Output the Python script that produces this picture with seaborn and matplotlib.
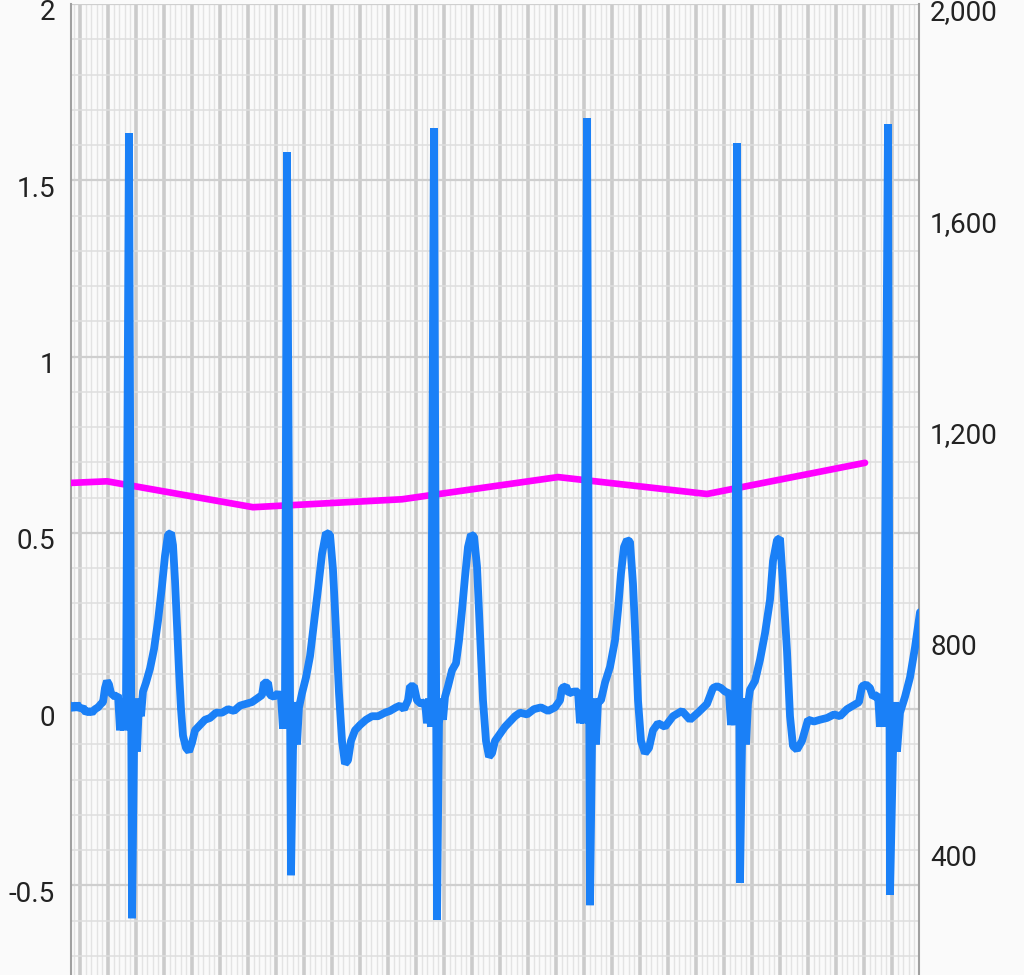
import matplotlib
matplotlib.use('Agg')
import matplotlib.pyplot as plt
import matplotlib.transforms as mtransforms
import seaborn as sns
import numpy as np

# ECG samples: sample index (140 Hz) and amplitude (mV)
FS = 140
ecg_n = [
    0, 3, 6, 9, 12, 15, 18, 21, 24, 27, 30, 32, 34, 36, 38, 40, 42, 44, 47, 49,
    51, 53, 55, 58, 61, 63, 64, 66, 68, 70, 72, 75, 79, 83, 87, 91, 94, 97, 100, 102,
    104, 106, 108, 110, 112, 115, 118, 121, 124, 129, 134, 139, 145, 151, 157, 163, 169, 175, 181, 186,
    191, 193, 197, 199, 203, 207, 210, 212, 214, 216, 220, 222, 224, 226, 228, 231, 235, 239, 243, 247,
    251, 255, 259, 262, 265, 268, 271, 274, 277, 280, 284, 289, 295, 301, 307, 314, 319, 325, 329, 333,
    337, 339, 343, 346, 350, 354, 356, 358, 360, 363, 366, 368, 370, 372, 374, 377, 381, 385, 388, 391,
    394, 397, 400, 403, 406, 409, 412, 415, 418, 421, 424, 429, 434, 439, 444, 449, 456, 463, 470, 477,
    484, 489,
    491, 495, 498, 503, 507, 509, 511, 513, 516, 519, 521, 523, 525, 527, 530, 534, 539, 544, 547, 550,
    553, 556, 559, 562, 565, 567, 570, 574, 578, 582, 587, 594, 602, 611, 619, 627, 636,
    642, 646, 650, 654, 658, 660, 662, 664, 666, 669, 671, 673, 675, 677, 679, 684, 689, 694, 699, 702,
    706, 709, 712, 716, 719, 722, 726, 731, 737, 743, 749, 756, 763, 769, 776, 782, 788,
    791, 795, 799, 802, 807, 809, 811, 813, 817, 819, 822, 824, 826, 829, 834, 839, 844, 849,
]
ecg_mv = [
    0.01, 0.0, 0.015, 0.0, 0.005, -0.01, -0.005, -0.01, 0.0, 0.005, 0.015, 0.02, 0.06, 0.08, 0.07, 0.045, 0.04, 0.035, 0.04, -0.06,
    0.03, -0.06, 0.02, 1.634, -0.593, -0.12, 0.03, -0.12, 0.02, -0.02, 0.05, 0.075, 0.115, 0.17, 0.25, 0.35, 0.435, 0.495, 0.50, 0.465,
    0.365, 0.24, 0.11, 0.0, -0.075, -0.11, -0.12, -0.095, -0.06, -0.045, -0.03, -0.025, -0.01, -0.01, 0.0, -0.005, 0.01, 0.015, 0.02, 0.03,
    0.04, 0.075, 0.075, 0.04, 0.035, 0.045, 0.035, -0.055, 0.03, 1.58, -0.471, -0.115, 0.02, -0.1, 0.005, 0.045, 0.09, 0.15, 0.245, 0.34,
    0.44, 0.50, 0.495, 0.395, 0.225, 0.045, -0.09, -0.155, -0.145, -0.09, -0.06, -0.045, -0.03, -0.02, -0.02, -0.01, -0.005, 0.005, 0.01, 0.0,
    0.025, 0.065, 0.065, 0.025, 0.015, 0.02, -0.04, 0.03, -0.05, 1.648, -0.598, -0.04, 0.03, -0.03, 0.035, 0.065, 0.11, 0.13, 0.195, 0.28,
    0.375, 0.46, 0.495, 0.49, 0.405, 0.215, 0.025, -0.09, -0.135, -0.125, -0.09, -0.07, -0.05, -0.035, -0.02, -0.01, -0.015, 0.0, 0.005, -0.005,
    0.005, 0.025,
    0.06, 0.065, 0.045, 0.05, 0.05, -0.04, 0.04, -0.04, 1.676, -0.556, -0.1, 0.03, -0.1, 0.02, 0.025, 0.075, 0.12, 0.195, 0.28, 0.385,
    0.46, 0.48, 0.475, 0.355, 0.165, 0.025, -0.09, -0.125, -0.11, -0.06, -0.04, -0.05, -0.02, -0.005, -0.03, -0.01, 0.015,
    0.06, 0.065, 0.06, 0.05, 0.045, -0.045, 0.04, -0.045, 1.605, -0.493, -0.105, 0.03, -0.1, 0.015, 0.055, 0.08, 0.14, 0.215, 0.31, 0.42,
    0.48, 0.485, 0.355, 0.165, -0.02, -0.105, -0.115, -0.09, -0.03, -0.035, -0.03, -0.025, -0.015, -0.02, 0.0, 0.01, 0.02,
    0.065, 0.07, 0.06, 0.035, 0.04, -0.05, 0.035, -0.05, 1.659, -0.527, -0.125, 0.02, -0.12, -0.01, 0.035, 0.09, 0.175, 0.275,
]

# RR interval curve (ms) on the right axis
rr_n = [0, 36, 182, 331, 487, 636, 794]
rr_ms = [1094, 1097, 1048, 1063, 1105, 1073, 1132]

left_ticks = [-0.5, 0, 0.5, 1, 1.5, 2]
left_labels = ['-0.5', '0', '0.5', '1', '1.5', '2']
right_ticks = [400, 800, 1200, 1600, 2000]
right_labels = ['400', '800', '1,200', '1,600', '2,000']

BLUE = '#1a80f7'
MAGENTA = '#ff00ff'
BG = '#fafafa'

sns.set_theme(style='white')
plt.rcParams['font.family'] = ['Roboto', 'DejaVu Sans']

t_ecg = np.array(ecg_n) / FS
t_rr = np.array(rr_n) / FS
x_max = 848 / FS

fig = plt.figure(figsize=(10.24, 9.75), dpi=100, facecolor=BG)
ax = fig.add_axes([71 / 1024, 0, 848 / 1024, 971 / 975])
ax.set_facecolor(BG)
ax2 = ax.twinx()
ax3 = ax.twinx()

# grid on the bottom axes
ax.set_xticks(np.arange(9, 849, 28) / FS)
ax.set_xticks(np.arange(3.4, 849, 5.6) / FS, minor=True)
ax.set_yticks(left_ticks, left_labels)
ax.set_yticks(np.arange(-0.7, 2.01, 0.1), minor=True)
ax.set_axisbelow(True)
ax.grid(which='major', axis='x', color='#cbcbcb', lw=2.6)
ax.grid(which='minor', axis='x', color='#e3e3e3', lw=1.0)
ax.grid(which='major', axis='y', color='#cfcfcf', lw=1.6)
ax.grid(which='minor', axis='y', color='#dedede', lw=1.1)
ax.set_ylim(-0.754, 2.0)
ax.tick_params(axis='both', which='both', length=0)
ax.tick_params(axis='x', labelbottom=False)
ax.tick_params(axis='y', labelsize=20, labelcolor='#222222', pad=11.5)
for s in ['top', 'bottom', 'right']:
    ax.spines[s].set_visible(False)
ax.spines['left'].set_color('#a0a0a0')
ax.spines['left'].set_linewidth(1.5)

# RR curve, right axis
sns.lineplot(x=t_rr, y=rr_ms, ax=ax2, color=MAGENTA, lw=4.8, sort=False, estimator=None,
             solid_joinstyle='miter')
ax2.set_ylim(163, 2000)
ax2.set_yticks(right_ticks, right_labels)
ax2.tick_params(axis='y', length=0, labelsize=20, labelcolor='#222222', pad=8)
for s in ['top', 'bottom', 'left']:
    ax2.spines[s].set_visible(False)
ax2.spines['right'].set_color('#a0a0a0')
ax2.spines['right'].set_linewidth(1.5)
ax2.set_xlabel('')
ax2.set_ylabel('')

# ECG trace on top
sns.lineplot(x=t_ecg, y=ecg_mv, ax=ax3, color=BLUE, lw=5.6, sort=False, estimator=None,
             solid_joinstyle='bevel')
ax3.set_ylim(ax.get_ylim())
ax3.set_yticks([])
for s in ax3.spines.values():
    s.set_visible(False)
ax3.set_xlabel('')
ax3.set_ylabel('')

ax.set_xlim(0, x_max)
ax.set_xlabel('')
ax.set_ylabel('')

# labels sit a little below their grid lines
shift = mtransforms.ScaledTranslation(0, -6 / 100, fig.dpi_scale_trans)
for lbl in ax.get_yticklabels():
    lbl.set_transform(lbl.get_transform() + shift)
for lbl in ax2.get_yticklabels():
    lbl.set_transform(lbl.get_transform() + shift)

plt.savefig('out.png', dpi=100, facecolor=BG)
plt.close()
